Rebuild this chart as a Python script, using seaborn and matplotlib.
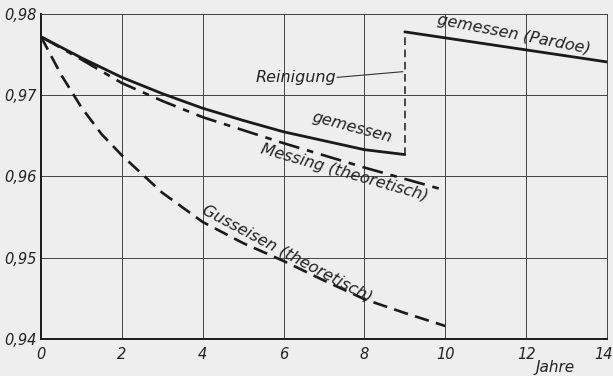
import matplotlib
matplotlib.use("Agg")
import matplotlib.pyplot as plt
import matplotlib.transforms as mtransforms
import seaborn as sns

# Wirkungsgrad über Betriebsjahre
jahre_gemessen = [0, 1, 2, 3, 4, 5, 6, 7, 8, 9]
gemessen = [0.9772, 0.9746, 0.9722, 0.9702, 0.9684, 0.9669, 0.9655, 0.9644, 0.9633, 0.9627]

jahre_messing = [0, 1, 2, 3, 4, 5, 6, 7, 8, 9, 10]
messing = [0.9772, 0.9744, 0.9715, 0.9693, 0.9673, 0.9657, 0.9641, 0.9626, 0.9611, 0.9597, 0.9583]

jahre_guss = [0, 0.5, 1, 1.5, 2, 3, 4, 5, 6, 7, 8, 9, 10]
gusseisen = [0.9772, 0.9725, 0.9685, 0.9652, 0.9626, 0.9580, 0.9544, 0.9518, 0.9496, 0.9472, 0.9449, 0.9432, 0.9416]

jahre_pardoe = [9, 14]
pardoe = [0.9778, 0.9741]

jahr_reinigung = 9

x_ticks = [0, 2, 4, 6, 8, 10, 12, 14]
y_ticks = [0.94, 0.95, 0.96, 0.97, 0.98]
y_labels = ["0,94", "0,95", "0,96", "0,97", "0,98"]

sns.set_style("white")
plt.rcParams["font.family"] = ["DejaVu Sans"]
plt.rcParams["font.style"] = "italic"

bg = "#eeeeee"
fig = plt.figure(figsize=(6.13, 3.76), dpi=100, facecolor=bg)
ax = fig.add_axes([0.0669, 0.0984, 0.9233, 0.8644])
ax.set_facecolor(bg)

ink = "#1a1a1a"

sns.lineplot(x=jahre_gemessen, y=gemessen, ax=ax, color=ink, lw=2.0,
             estimator=None, sort=False)
sns.lineplot(x=jahre_messing, y=messing, ax=ax, color=ink, lw=1.9,
             linestyle=(0, (8, 3, 2.5, 3)), estimator=None, sort=False)
sns.lineplot(x=jahre_guss, y=gusseisen, ax=ax, color=ink, lw=1.9,
             linestyle=(0, (5.5, 2.8)), estimator=None, sort=False)
sns.lineplot(x=jahre_pardoe, y=pardoe, ax=ax, color=ink, lw=2.0,
             estimator=None, sort=False)
# Sprung nach der Reinigung
sns.lineplot(x=[jahr_reinigung, jahr_reinigung], y=[gemessen[-1], pardoe[0]],
             ax=ax, color=ink, lw=1.1, linestyle=(0, (5, 3)),
             estimator=None, sort=False)

ax.set_xlim(0, 14)
ax.set_ylim(0.94, 0.98)
ax.set_xticks(x_ticks)
ax.set_xticklabels([str(t) for t in x_ticks])
ax.set_yticks(y_ticks)
ax.set_yticklabels(y_labels)
ax.tick_params(axis="both", length=0, labelsize=10.5, colors="#222222", pad=3)
ax.tick_params(axis="x", pad=6)
last = ax.get_xticklabels()[-1]
last.set_transform(last.get_transform() + mtransforms.ScaledTranslation(-3 / 100, 0, fig.dpi_scale_trans))
ax.grid(True, color="#444444", lw=0.7)
ax.set_axisbelow(True)
for side in ["top", "right"]:
    ax.spines[side].set_color("#444444")
    ax.spines[side].set_linewidth(0.7)
for side in ["left", "bottom"]:
    ax.spines[side].set_color(ink)
    ax.spines[side].set_linewidth(1.4)
ax.set_xlabel("")
ax.set_ylabel("")

txt = dict(color="#222222", fontsize=11.5, style="italic",
           ha="center", va="center", rotation_mode="anchor")
ax.text(11.7, 0.9775, "gemessen (Pardoe)", rotation=-11, **txt)
ax.text(7.7, 0.9661, "gemessen", rotation=-15, **txt)
ax.text(7.5, 0.9605, "Messing (theoretisch)", rotation=-16, **txt)
ax.text(6.1, 0.9505, "Gusseisen (theoretisch)", rotation=-28, **txt)
ax.text(6.3, 0.9722, "Reinigung", **txt)
ax.plot([7.32, 8.95], [0.9722, 0.9729], color="#333333", lw=0.8)
fig.text(0.905, 0.022, "Jahre", color="#222222", fontsize=11,
         style="italic", ha="center", va="center")

fig.savefig("out.png", dpi=100, facecolor=bg)
